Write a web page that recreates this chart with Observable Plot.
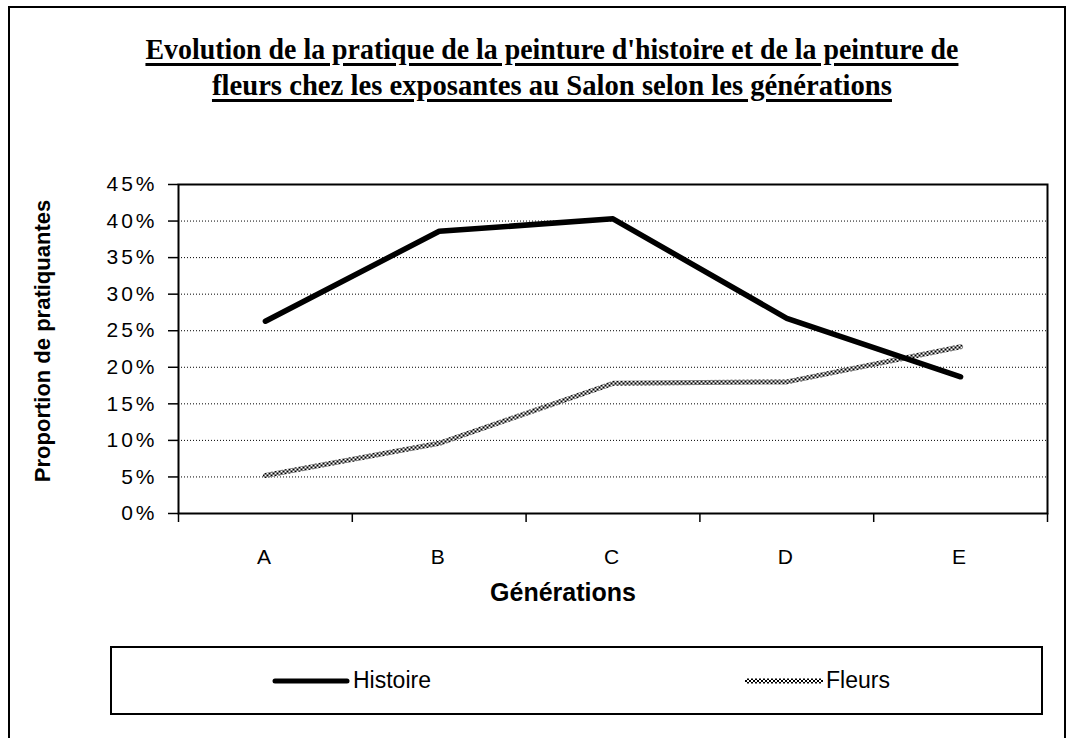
<!DOCTYPE html>
<html>
<head>
<meta charset="utf-8">
<script src="https://cdn.jsdelivr.net/npm/d3@7"></script>
<script src="https://cdn.jsdelivr.net/npm/@observablehq/plot@0.6"></script>
<style>
  body { margin: 0; background: #fff; }
  #wrap { position: relative; width: 1080px; height: 738px; overflow: hidden; background: #fff; font-family: "Liberation Sans", Arial, sans-serif; }
  #chart { position: absolute; left: 0; top: 0; }
  #frame { position: absolute; left: 8px; top: 6px; width: 1058px; height: 800px; border: 2px solid #000; box-sizing: border-box; pointer-events: none; }
  #title { position: absolute; left: 12px; top: 31px; width: 1080px; text-align: center; font-family: "Liberation Serif", "Times New Roman", serif; font-weight: bold; font-size: 29px; line-height: 36px; color: #000; }
  #title span { display: inline-block; white-space: nowrap; text-decoration: underline; text-decoration-thickness: 3px; text-underline-offset: 4px; transform-origin: center; }
  #legend { position: absolute; left: 110px; top: 646px; width: 933px; height: 69px; border: 2px solid #000; box-sizing: border-box; background: #fff; }
  .item { position: absolute; top: 0; height: 65px; display: flex; align-items: center; font-size: 23px; color: #000; }
  .item svg { display: block; margin-right: 3px; }
</style>
</head>
<body>
<div id="wrap">
  <div id="chart"></div>
  <div id="title"></div>
  <div id="legend"></div>
  <div id="frame"></div>
</div>
<script>
// ---- data ----
const titleLines = [
  "Evolution de la pratique de la peinture d'histoire et de la peinture de",
  "fleurs chez les exposantes au Salon selon les générations"
];
const categories = ["A", "B", "C", "D", "E"];
const histoire = [0.263, 0.386, 0.403, 0.267, 0.187];
const fleurs = [0.052, 0.096, 0.178, 0.180, 0.228];
const seriesNames = ["Histoire", "Fleurs"];
const yTicks = [0, 0.05, 0.10, 0.15, 0.20, 0.25, 0.30, 0.35, 0.40, 0.45];
const yGrid = [0.05, 0.10, 0.15, 0.20, 0.25, 0.30, 0.35, 0.40];
const xLabel = "Générations";
const yLabel = "Proportion de pratiquantes";

// ---- table ----
const rowsH = categories.map((c, i) => ({i, cat: c, value: histoire[i]}));
const rowsF = categories.map((c, i) => ({i, cat: c, value: fleurs[i]}));
const catIdx = categories.map((c, i) => i);
const boundaries = [-0.5].concat(catIdx.map(i => i + 0.5));

const plot = Plot.plot({
  width: 1080,
  height: 738,
  marginLeft: 178,
  marginRight: 33,
  marginTop: 184,
  marginBottom: 225,
  style: {background: "transparent", fontFamily: "'Liberation Sans', Arial, sans-serif", fontSize: "20px", color: "#000", overflow: "visible"},
  x: {type: "linear", domain: [-0.5, categories.length - 0.5]},
  y: {domain: [0, 0.45]},
  marks: [
    Plot.gridY(yGrid, {stroke: "#000", strokeOpacity: 1, strokeWidth: 1, strokeDasharray: "1,2"}),
    Plot.axisY({ticks: yTicks, tickFormat: d3.format(".0%"), tickSize: 10, tickPadding: 11, stroke: "#000", strokeWidth: 1.5, label: null, fontSize: 21}),
    Plot.axisX({ticks: boundaries, tickFormat: () => "", tickSize: 9, stroke: "#000", strokeWidth: 1.5, label: null}),
    Plot.axisX({ticks: catIdx, tickFormat: i => categories[i], tickSize: 0, tickPadding: 36, label: null, fontSize: 21}),
    Plot.frame({stroke: "#000", strokeWidth: 2}),
    Plot.line(rowsF, {x: "i", y: "value", stroke: "url(#chk)", strokeWidth: 5, strokeLinejoin: "round"}),
    Plot.line(rowsH, {x: "i", y: "value", stroke: "#000", strokeWidth: 5.5, strokeLinecap: "round", strokeLinejoin: "round"}),
    Plot.text([yLabel], {frameAnchor: "left", textAnchor: "middle", rotate: -90, dx: -136, dy: -8, fontWeight: "bold", fontSize: 22, fill: "#000", ariaLabel: "ytitle"}),
    Plot.text([xLabel], {frameAnchor: "bottom", dy: 87, dx: -50, fontWeight: "bold", fontSize: 25, fill: "#000", ariaLabel: "xtitle"})
  ]
});

// font tuning of text groups
const sel = d3.select(plot);
sel.selectAll("g[aria-label='y-axis tick label'] text, g[aria-label='x-axis tick label'] text")
  .style("font-size", "21px").style("letter-spacing", "3px");
sel.selectAll("g[aria-label='ytitle'] text").style("letter-spacing", "0.6px");
sel.selectAll("g[aria-label='xtitle'] text").style("letter-spacing", "2.5px");

// checker pattern for the "Fleurs" line
function addPattern(svg, id) {
  const defs = d3.select(svg).insert("defs", ":first-child");
  const p = defs.append("pattern").attr("id", id).attr("patternUnits", "userSpaceOnUse").attr("width", 4).attr("height", 4);
  p.append("rect").attr("width", 4).attr("height", 4).attr("fill", "#fff");
  p.append("rect").attr("x", 0).attr("y", 0).attr("width", 2).attr("height", 2).attr("fill", "#000");
  p.append("rect").attr("x", 2).attr("y", 2).attr("width", 2).attr("height", 2).attr("fill", "#000");
}
addPattern(plot, "chk");
document.getElementById("chart").appendChild(plot);

// ---- title ----
const titleDiv = document.getElementById("title");
const targets = [813, 680];
titleLines.forEach((t, k) => {
  const s = document.createElement("span");
  s.textContent = t;
  titleDiv.appendChild(s);
  titleDiv.appendChild(document.createElement("br"));
  const w = s.getBoundingClientRect().width;
  s.style.transform = `scaleX(${targets[k] / w})`;
});

// ---- legend ----
const legend = document.getElementById("legend");
const itemLeft = [160, 633];
seriesNames.forEach((name, k) => {
  const item = document.createElement("div");
  item.className = "item";
  item.style.left = itemLeft[k] + "px";
  const svg = d3.create("svg").attr("width", 78).attr("height", 10);
  if (k === 0) {
    svg.append("line").attr("x1", 3).attr("x2", 75).attr("y1", 5).attr("y2", 5).attr("stroke", "#000").attr("stroke-width", 5).attr("stroke-linecap", "round");
  } else {
    addPattern(svg.node(), "chk2");
    svg.append("line").attr("x1", 0).attr("x2", 78).attr("y1", 5).attr("y2", 5).attr("stroke", "url(#chk2)").attr("stroke-width", 5);
  }
  item.appendChild(svg.node());
  const lab = document.createElement("span");
  lab.textContent = name;
  item.appendChild(lab);
  legend.appendChild(item);
});
</script>
</body>
</html>
